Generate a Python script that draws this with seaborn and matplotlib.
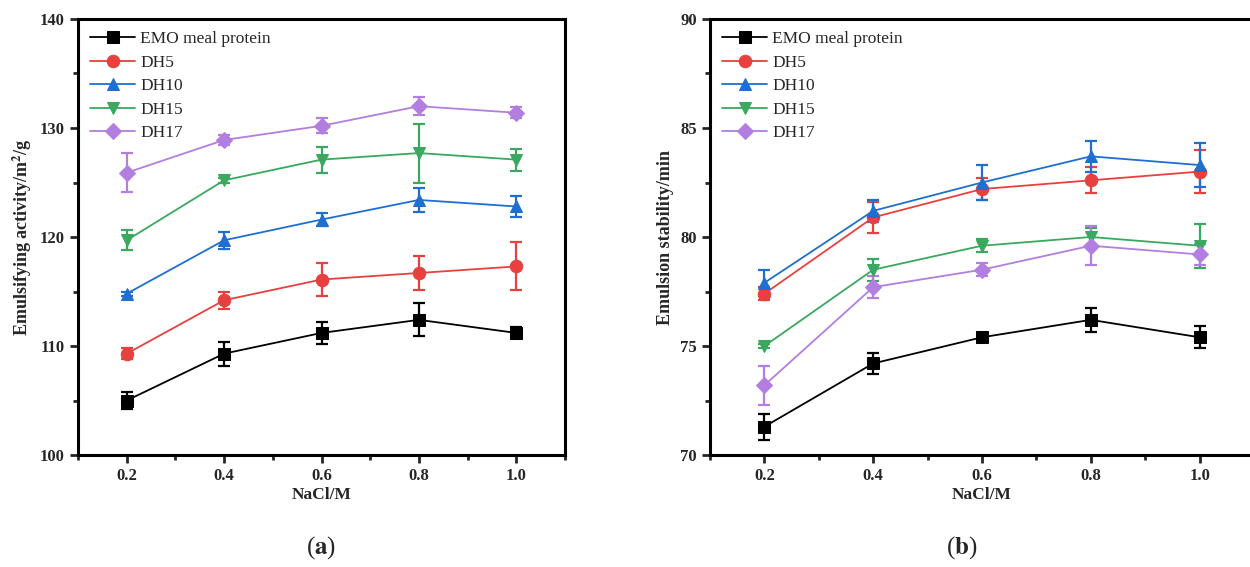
import numpy as np
import pandas as pd
import matplotlib
matplotlib.use("Agg")
import matplotlib.pyplot as plt
import seaborn as sns
from matplotlib.ticker import MultipleLocator

nacl = [0.2, 0.4, 0.6, 0.8, 1.0]
series = ["EMO meal protein", "DH5", "DH10", "DH15", "DH17"]

# (a) Emulsifying activity
ea_emo = [105.0, 109.3, 111.2, 112.4, 111.2]
ea_dh5 = [109.3, 114.2, 116.1, 116.7, 117.3]
ea_dh10 = [114.8, 119.7, 121.6, 123.4, 122.8]
ea_dh15 = [119.7, 125.2, 127.1, 127.7, 127.1]
ea_dh17 = [125.9, 128.9, 130.2, 132.0, 131.4]
ea_emo_err = [0.8, 1.1, 1.0, 1.5, 0.5]
ea_dh5_err = [0.5, 0.8, 1.5, 1.6, 2.2]
ea_dh10_err = [0.2, 0.8, 0.6, 1.1, 1.0]
ea_dh15_err = [0.9, 0.2, 1.2, 2.7, 1.0]
ea_dh17_err = [1.8, 0.5, 0.7, 0.8, 0.5]

# (b) Emulsion stability
es_emo = [71.3, 74.2, 75.4, 76.2, 75.4]
es_dh5 = [77.4, 80.9, 82.2, 82.6, 83.0]
es_dh10 = [77.9, 81.2, 82.5, 83.7, 83.3]
es_dh15 = [75.0, 78.5, 79.6, 80.0, 79.6]
es_dh17 = [73.2, 77.7, 78.5, 79.6, 79.2]
es_emo_err = [0.6, 0.5, 0.15, 0.55, 0.5]
es_dh5_err = [0.3, 0.7, 0.5, 0.6, 1.0]
es_dh10_err = [0.6, 0.5, 0.8, 0.7, 1.0]
es_dh15_err = [0.1, 0.5, 0.3, 0.4, 1.0]
es_dh17_err = [0.9, 0.5, 0.3, 0.9, 0.5]

colors = ["#000000", "#e8403f", "#1e6fd0", "#3aa85e", "#b27ee0"]
markers = ["s", "o", "^", "v", "D"]
msizes = [8, 9, 9, 9, 8]

sns.set_theme(style="white")
plt.rcParams["font.family"] = ["Liberation Serif", "DejaVu Serif"]
plt.rcParams["mathtext.fontset"] = "stix"

fig = plt.figure(figsize=(12.5, 5.67), dpi=100)
axa = fig.add_axes([0.0624, 0.1975, 0.3896, 0.769])
axb = fig.add_axes([0.568, 0.1975, 0.4352, 0.769])

panels = [
    (axa, [ea_emo, ea_dh5, ea_dh10, ea_dh15, ea_dh17],
     [ea_emo_err, ea_dh5_err, ea_dh10_err, ea_dh15_err, ea_dh17_err],
     (100, 140), 10, 5, "Emulsifying activity/m$^\\mathbf{2}$/g", "($\\mathbf{a}$)", 0.257),
    (axb, [es_emo, es_dh5, es_dh10, es_dh15, es_dh17],
     [es_emo_err, es_dh5_err, es_dh10_err, es_dh15_err, es_dh17_err],
     (70, 90), 5, 2.5, "Emulsion stability/min", "($\\mathbf{b}$)", 0.7696),
]

for ax, vals, errs, ylim, major, minor, ylabel, tag, tx in panels:
    for name, v, e, c, m, ms in zip(series, vals, errs, colors, markers, msizes):
        df = pd.DataFrame({"NaCl": nacl, "val": v})
        ax.errorbar(nacl, v, yerr=e, fmt="none", ecolor=c, elinewidth=1.6,
                    capsize=4, capthick=1.6, zorder=2)
        sns.lineplot(data=df, x="NaCl", y="val", ax=ax, color=c, marker=m,
                     markersize=ms, markeredgecolor=c, linewidth=1.3,
                     label=name, zorder=3)
    ax.set_xlim(0.1, 1.1)
    ax.set_ylim(*ylim)
    ax.xaxis.set_major_locator(MultipleLocator(0.2))
    ax.xaxis.set_minor_locator(MultipleLocator(0.1))
    ax.yaxis.set_major_locator(MultipleLocator(major))
    ax.yaxis.set_minor_locator(MultipleLocator(minor))
    ax.set_xticks(nacl)
    ax.set_xticklabels([f"{x:.1f}" for x in nacl])
    ax.tick_params(axis="both", which="major", direction="out", length=6, width=2,
                   labelsize=12, bottom=True, left=True, top=False, right=False)
    ax.tick_params(axis="both", which="minor", direction="out", length=3.5, width=2,
                   bottom=True, left=True, top=False, right=False)
    for lab in ax.get_xticklabels() + ax.get_yticklabels():
        lab.set_fontweight("bold")
    for sp in ax.spines.values():
        sp.set_linewidth(2.2)
        sp.set_color("black")
    ax.set_xlabel("NaCl/M", fontsize=12.5, fontweight="bold", labelpad=2)
    ax.set_ylabel(ylabel, fontsize=13, fontweight="bold", labelpad=4)
    ax.legend(loc="upper left", frameon=False, fontsize=12.5,
              handlelength=2.6, handletextpad=0.3, labelspacing=0.42,
              borderaxespad=0.3)
    fig.text(tx, 0.034, tag, ha="center", va="center", fontsize=18)

fig.savefig("out.png", dpi=100)
